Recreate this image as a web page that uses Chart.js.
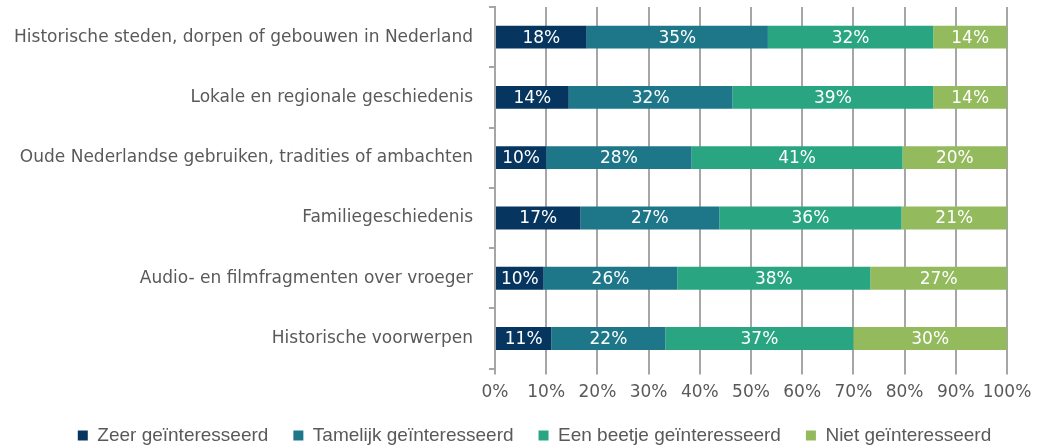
<!DOCTYPE html>
<html lang="nl">
<head>
    <meta charset="UTF-8">
    <title>Interesse in geschiedenis</title>
    <script src="https://cdn.jsdelivr.net/npm/chart.js"></script>
    <style>
        html, body { margin: 0; padding: 0; background: #fff; }
        .chart-container { width: 1037px; height: 447px; position: relative; }
    </style>
</head>
<body>
    <div class="chart-container"><canvas id="chart"></canvas></div>
    <script>
        const categories = [
            'Historische steden, dorpen of gebouwen in Nederland',
            'Lokale en regionale geschiedenis',
            'Oude Nederlandse gebruiken, tradities of ambachten',
            'Familiegeschiedenis',
            'Audio- en filmfragmenten over vroeger',
            'Historische voorwerpen'
        ];
        const seriesNames = ['Zeer geïnteresseerd', 'Tamelijk geïnteresseerd', 'Een beetje geïnteresseerd', 'Niet geïnteresseerd'];
        const zeer = [17.9, 14.4, 10.0, 16.7, 9.5, 11.0];
        const tamelijk = [35.4, 32.0, 28.4, 27.1, 26.1, 22.3];
        const beetje = [32.3, 39.2, 41.2, 35.6, 37.7, 36.7];
        const niet = [14.4, 14.4, 20.4, 20.6, 26.7, 30.0];
        const colors = ['#06365f', '#1d7788', '#29a681', '#93ba5c'];

        const seriesValues = [zeer, tamelijk, beetje, niet];

        // white percentage labels in the middle of each bar segment
        const barLabels = {
            id: 'barLabels',
            afterDatasetsDraw(chart) {
                const ctx = chart.ctx;
                ctx.save();
                ctx.font = '17px "DejaVu Sans"';
                ctx.fillStyle = '#ffffff';
                ctx.textAlign = 'center';
                ctx.textBaseline = 'middle';
                chart.data.datasets.forEach((ds, i) => {
                    chart.getDatasetMeta(i).data.forEach((bar, j) => {
                        const mid = (bar.x + bar.base) / 2;
                        ctx.fillText(Math.round(ds.data[j]) + '%', mid, bar.y + 1);
                    });
                });
                ctx.restore();
            }
        };

        // the legend sits a little higher and more to the right than Chart.js puts it
        const shiftLegend = {
            id: 'shiftLegend',
            beforeUpdate(chart) {
                const lg = chart.legend;
                if (lg && !lg._shifted) {
                    const draw = lg.draw;
                    lg.draw = function () {
                        this.left += 31; this.right += 31;
                        this.top -= 10; this.bottom -= 10;
                        draw.call(this);
                        this.left -= 31; this.right -= 31;
                        this.top += 10; this.bottom += 10;
                    };
                    lg._shifted = true;
                }
            }
        };

        new Chart(document.getElementById('chart'), {
            type: 'bar',
            data: {
                labels: categories,
                datasets: seriesValues.map((vals, i) => ({
                    label: seriesNames[i],
                    data: vals,
                    backgroundColor: colors[i],
                    borderWidth: 0,
                    barPercentage: 0.76,
                    categoryPercentage: 0.5
                }))
            },
            options: {
                indexAxis: 'y',
                responsive: true,
                maintainAspectRatio: false,
                animation: false,
                layout: { padding: { top: 7, right: 30, left: 0, bottom: -18 } },
                plugins: {
                    legend: {
                        position: 'bottom',
                        labels: {
                            boxWidth: 10,
                            boxHeight: 10,
                            padding: 25,
                            color: '#595959',
                            font: { family: '"Liberation Sans"', size: 19 }
                        }
                    },
                    tooltip: { enabled: false }
                },
                scales: {
                    x: {
                        stacked: true,
                        min: 0,
                        max: 100,
                        afterFit: scale => {
                            scale.paddingRight = 0;
                        },
                        ticks: {
                            stepSize: 10,
                            maxRotation: 0,
                            autoSkip: false,
                            color: '#595959',
                            font: { family: '"DejaVu Sans"', size: 17 },
                            padding: 8,
                            callback: v => v + '%'
                        },
                        grid: { color: '#a6a6a6', lineWidth: 2, tickLength: 6 },
                        border: { display: false }
                    },
                    y: {
                        stacked: true,
                        afterFit: scale => {
                            scale.width = 495;
                            scale.paddingTop = 0;
                            scale.paddingBottom = 0;
                        },
                        ticks: {
                            color: '#595959',
                            font: { family: '"DejaVu Sans"', size: 17 },
                            padding: 16
                        },
                        grid: { offset: true, drawOnChartArea: false, color: '#a6a6a6', lineWidth: 2, tickLength: 6 },
                        border: { display: true, color: '#a6a6a6', width: 2 }
                    }
                }
            },
            plugins: [barLabels, shiftLegend]
        });
    </script>
</body>
</html>
